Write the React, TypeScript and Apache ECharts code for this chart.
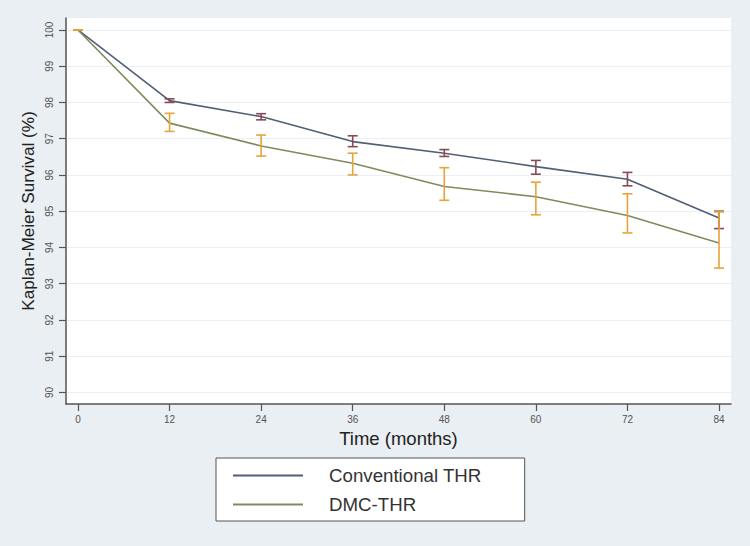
import React, { useEffect, useRef } from "react";
import * as echarts from "echarts";

const months = [0, 12, 24, 36, 48, 60, 72, 84];
const yTicks = [90, 91, 92, 93, 94, 95, 96, 97, 98, 99, 100];

const convName = "Conventional THR";
const convMean = [100, 98.05, 97.61, 96.92, 96.6, 96.23, 95.88, 94.81];
const convLow = [100, 98.0, 97.52, 96.78, 96.51, 96.02, 95.7, 94.52];
const convHigh = [100, 98.1, 97.69, 97.08, 96.7, 96.4, 96.07, 95.0];

const dmcName = "DMC-THR";
const dmcMean = [100, 97.43, 96.8, 96.32, 95.68, 95.4, 94.88, 94.12];
const dmcLow = [100, 97.2, 96.52, 96.0, 95.3, 94.9, 94.4, 93.43];
const dmcHigh = [100, 97.7, 97.1, 96.6, 96.2, 95.8, 95.48, 94.98];

const convLine = "#505E76";
const dmcLine = "#7E8C5C";
const convBar = "#8A4A55";
const dmcBar = "#E8A33A";

function errorSeries(name: string, low: number[], high: number[], color: string) {
  return {
    type: "custom",
    name: name + " CI",
    z: 5,
    silent: true,
    data: months.map((m, i) => [m, low[i], high[i]]),
    renderItem: (params: any, api: any) => {
      const x = api.value(0);
      const lo = api.coord([x, api.value(1)]);
      const hi = api.coord([x, api.value(2)]);
      const hw = 5;
      const style = { stroke: color, lineWidth: 1.6, fill: "none" };
      return {
        type: "group",
        children: [
          { type: "line", shape: { x1: lo[0], y1: lo[1], x2: hi[0], y2: hi[1] }, style },
          { type: "line", shape: { x1: lo[0] - hw, y1: lo[1], x2: lo[0] + hw, y2: lo[1] }, style },
          { type: "line", shape: { x1: hi[0] - hw, y1: hi[1], x2: hi[0] + hw, y2: hi[1] }, style },
        ],
      };
    },
  };
}

export default function App() {
  const ref = useRef<HTMLDivElement>(null);
  useEffect(() => {
    document.body.style.margin = "0";
    const chart = echarts.init(ref.current!, null, { renderer: "svg" });
    chart.setOption({
      animation: false,
      backgroundColor: "#E9EFF2",
      textStyle: { fontFamily: "Liberation Sans, Arial, sans-serif" },
      grid: {
        left: 66,
        right: 19,
        top: 18,
        bottom: 142,
        show: true,
        backgroundColor: "#FFFFFF",
        borderWidth: 0,
      },
      xAxis: {
        type: "value",
        min: -1.57,
        max: 85.57,
        name: "Time (months)",
        nameLocation: "middle",
        nameGap: 21,
        nameTextStyle: { fontSize: 18.5, color: "#222" },
        axisLine: { show: true, onZero: false, lineStyle: { color: "#555", width: 1.5 } },
        axisTick: { show: true, length: 7, customValues: months, lineStyle: { color: "#555", width: 1.2 } },
        axisLabel: { customValues: months, fontSize: 10, color: "#555", margin: 10 },
        splitLine: { show: false },
      },
      yAxis: {
        type: "value",
        min: 89.68,
        max: 100.33,
        name: "Kaplan-Meier Survival (%)",
        nameLocation: "middle",
        nameGap: 29,
        nameTextStyle: { fontSize: 17.2, color: "#222" },
        axisLine: { show: true, onZero: false, lineStyle: { color: "#555", width: 1.5 } },
        axisTick: { show: true, length: 7, customValues: yTicks, lineStyle: { color: "#555", width: 1.2 } },
        axisLabel: { customValues: yTicks, fontSize: 10, color: "#555", margin: 12, rotate: 90 },
        splitLine: { show: true, lineStyle: { color: "#EAF0F3", width: 1 } },
      },
      legend: {
        left: 216,
        top: 458,
        orient: "vertical",
        data: [convName, dmcName],
        itemWidth: 70,
        itemHeight: 20,
        itemGap: 10,
        padding: [8, 43, 7, 16],
        borderColor: "#555",
        borderWidth: 1,
        backgroundColor: "#FFFFFF",
        borderRadius: 0,
        selectedMode: false,
        itemStyle: { opacity: 0 },
        textStyle: { fontSize: 18.7, color: "#333", padding: [0, 0, 0, 21] },
      },
      series: [
        {
          type: "line",
          name: convName,
          data: months.map((m, i) => [m, convMean[i]]),
          symbol: "none",
          lineStyle: { color: convLine, width: 1.6 },
          itemStyle: { color: convLine },
          z: 3,
        },
        {
          type: "line",
          name: dmcName,
          data: months.map((m, i) => [m, dmcMean[i]]),
          symbol: "none",
          lineStyle: { color: dmcLine, width: 1.6 },
          itemStyle: { color: dmcLine },
          z: 3,
        },
        errorSeries(convName, convLow, convHigh, convBar),
        errorSeries(dmcName, dmcLow, dmcHigh, dmcBar),
      ],
    });
    return () => chart.dispose();
  }, []);
  return <div ref={ref} style={{ width: 750, height: 546 }} />;
}
